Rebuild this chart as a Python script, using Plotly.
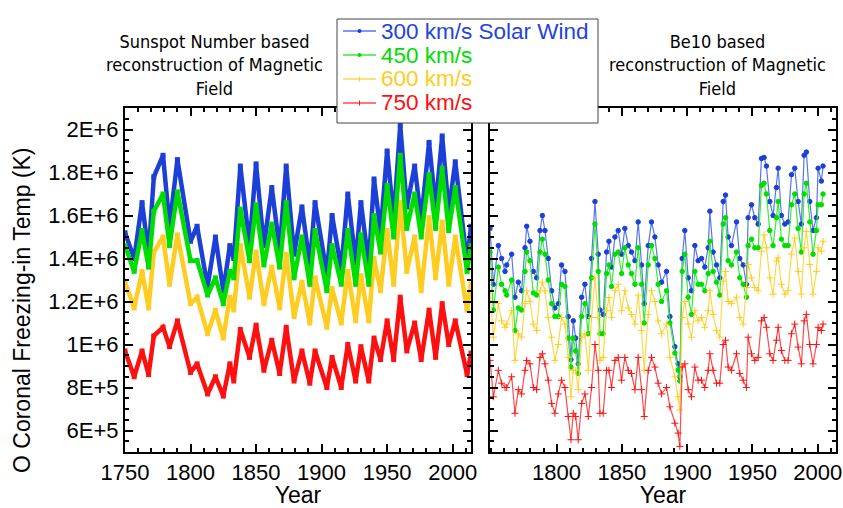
import plotly.graph_objects as go

# ---------------- Left panel: sunspot-number based ----------------
years_ssn = [1750, 1757, 1763, 1768, 1772, 1779, 1784, 1790, 1800, 1805, 1813, 1819, 1825, 1830,
             1833, 1838, 1845, 1850, 1856, 1862, 1868, 1873, 1879, 1885, 1891, 1895, 1904, 1908,
             1915, 1920, 1926, 1930, 1936, 1940, 1945, 1950, 1955, 1960, 1965, 1971, 1976, 1982,
             1987, 1992, 1997, 2002, 2011, 2014]
ssn_300 = [1.52e6, 1.40e6, 1.66e6, 1.42e6, 1.78e6, 1.88e6, 1.55e6, 1.86e6, 1.48e6, 1.55e6, 1.27e6,
           1.50e6, 1.25e6, 1.46e6, 1.40e6, 1.83e6, 1.46e6, 1.84e6, 1.46e6, 1.73e6, 1.44e6, 1.83e6,
           1.42e6, 1.64e6, 1.37e6, 1.66e6, 1.33e6, 1.60e6, 1.35e6, 1.70e6, 1.38e6, 1.66e6, 1.37e6,
           1.77e6, 1.52e6, 1.90e6, 1.58e6, 2.02e6, 1.64e6, 1.83e6, 1.58e6, 1.94e6, 1.64e6, 1.97e6,
           1.62e6, 1.85e6, 1.38e6, 1.55e6]
ssn_450 = [1.46e6, 1.34e6, 1.53e6, 1.36e6, 1.62e6, 1.70e6, 1.46e6, 1.71e6, 1.39e6, 1.39e6, 1.23e6,
           1.31e6, 1.19e6, 1.34e6, 1.31e6, 1.63e6, 1.39e6, 1.65e6, 1.37e6, 1.56e6, 1.36e6, 1.66e6,
           1.31e6, 1.50e6, 1.28e6, 1.53e6, 1.25e6, 1.46e6, 1.28e6, 1.53e6, 1.28e6, 1.51e6, 1.28e6,
           1.60e6, 1.43e6, 1.74e6, 1.50e6, 1.88e6, 1.54e6, 1.70e6, 1.50e6, 1.79e6, 1.54e6, 1.82e6,
           1.53e6, 1.73e6, 1.34e6, 1.46e6]
ssn_600 = [1.29e6, 1.17e6, 1.34e6, 1.17e6, 1.43e6, 1.50e6, 1.28e6, 1.51e6, 1.19e6, 1.22e6, 1.05e6,
           1.16e6, 1.03e6, 1.22e6, 1.16e6, 1.46e6, 1.22e6, 1.43e6, 1.19e6, 1.36e6, 1.17e6, 1.42e6,
           1.13e6, 1.29e6, 1.10e6, 1.31e6, 1.08e6, 1.26e6, 1.10e6, 1.34e6, 1.11e6, 1.32e6, 1.11e6,
           1.40e6, 1.25e6, 1.53e6, 1.28e6, 1.66e6, 1.34e6, 1.50e6, 1.25e6, 1.59e6, 1.31e6, 1.57e6,
           1.28e6, 1.50e6, 1.16e6, 1.28e6]
ssn_750 = [9.7e5, 8.5e5, 9.7e5, 8.6e5, 1.04e6, 1.08e6, 9.9e5, 1.11e6, 8.7e5, 9.1e5, 7.7e5,
           8.5e5, 7.6e5, 9.1e5, 8.3e5, 1.07e6, 9.4e5, 1.09e6, 8.8e5, 1.02e6, 8.65e5, 1.08e6,
           8.3e5, 9.7e5, 8.2e5, 9.7e5, 8.0e5, 9.4e5, 8.0e5, 1.00e6, 8.3e5, 9.9e5, 8.3e5,
           1.03e6, 9.3e5, 1.11e6, 9.3e5, 1.22e6, 9.7e5, 1.10e6, 9.3e5, 1.16e6, 9.4e5, 1.19e6,
           1.00e6, 1.11e6, 8.6e5, 9.6e5]

# ---------------- Right panel: Be10 based ----------------
years_be = [1749, 1751.6, 1755.4, 1757.9, 1760.5, 1761.8, 1765.6, 1768.1, 1770.7, 1773.2, 1775.8,
            1777.1, 1779.6, 1782.2, 1784.7, 1787.3, 1789.1, 1791.1, 1793.6, 1796.2, 1798.7, 1801.3,
            1803.8, 1806.4, 1808.9, 1811, 1812.8, 1814.6, 1816.6, 1819.2, 1821.7, 1824.3, 1826.8,
            1829.4, 1831.9, 1833.2, 1835.7, 1838.3, 1840.1, 1842.1, 1844.7, 1847.2, 1849.8, 1852.3,
            1854.9, 1857.4, 1860, 1862.5, 1865.1, 1867.1, 1870.2, 1872.7, 1875.3, 1877.8, 1880.4,
            1884.2, 1886.8, 1890.6, 1893.1, 1894.4, 1896.2, 1898.2, 1900.8, 1903.3, 1905.9, 1908.4,
            1911, 1913.5, 1916.1, 1917.4, 1919.9, 1922.5, 1925, 1927.6, 1929.4, 1931.4, 1933.9,
            1937.8, 1940.3, 1942.9, 1945.4, 1946.7, 1949.3, 1951.8, 1954.4, 1956.9, 1958.9, 1960.7,
            1963.3, 1965.8, 1968.4, 1969.7, 1972.2, 1974.8, 1977.3, 1979.9, 1982.4, 1985, 1987.5,
            1989.6, 1991.3, 1993.9, 1996.4, 1999, 2000.3, 2002.8, 2004.1]
be_300 = [1.54e6, 1.28e6, 1.46e6, 1.40e6, 1.34e6, 1.37e6, 1.42e6, 1.22e6, 1.29e6, 1.25e6, 1.45e6,
          1.55e6, 1.48e6, 1.34e6, 1.31e6, 1.53e6, 1.60e6, 1.53e6, 1.40e6, 1.25e6, 1.17e6, 1.19e6,
          1.37e6, 1.34e6, 1.13e6, 0.93e6, 1.11e6, 1.03e6, 0.91e6, 1.22e6, 1.28e6, 1.13e6, 1.40e6,
          1.665e6, 1.42e6, 1.16e6, 1.14e6, 1.43e6, 1.48e6, 1.36e6, 1.50e6, 1.53e6, 1.42e6, 1.54e6,
          1.46e6, 1.43e6, 1.39e6, 1.57e6, 1.37e6, 1.19e6, 1.46e6, 1.57e6, 1.50e6, 1.37e6, 1.29e6,
          1.34e6, 1.13e6, 0.99e6, 0.91e6, 0.85e6, 1.40e6, 1.53e6, 1.31e6, 1.25e6, 1.46e6, 1.39e6,
          1.40e6, 1.36e6, 1.45e6, 1.62e6, 1.43e6, 1.37e6, 1.31e6, 1.665e6, 1.695e6, 1.50e6, 1.46e6,
          1.57e6, 1.40e6, 1.37e6, 1.28e6, 1.59e6, 1.65e6, 1.59e6, 1.56e6, 1.865e6, 1.87e6, 1.83e6,
          1.665e6, 1.60e6, 1.73e6, 1.82e6, 1.60e6, 1.56e6, 1.57e6, 1.79e6, 1.82e6, 1.665e6, 1.56e6,
          1.88e6, 1.895e6, 1.665e6, 1.53e6, 1.59e6, 1.82e6, 1.76e6, 1.83e6]
be_450 = [1.43e6, 1.16e6, 1.36e6, 1.28e6, 1.25e6, 1.23e6, 1.30e6, 1.065e6, 1.17e6, 1.16e6, 1.34e6,
          1.43e6, 1.39e6, 1.24e6, 1.23e6, 1.43e6, 1.49e6, 1.42e6, 1.30e6, 1.19e6, 1.13e6, 1.13e6,
          1.28e6, 1.27e6, 1.03e6, 0.895e6, 1.03e6, 0.97e6, 0.865e6, 1.13e6, 1.19e6, 1.05e6, 1.31e6,
          1.56e6, 1.34e6, 1.05e6, 1.05e6, 1.33e6, 1.37e6, 1.27e6, 1.42e6, 1.43e6, 1.33e6, 1.45e6,
          1.37e6, 1.33e6, 1.28e6, 1.45e6, 1.28e6, 1.10e6, 1.37e6, 1.46e6, 1.40e6, 1.28e6, 1.20e6,
          1.25e6, 1.10e6, 0.96e6, 0.88e6, 0.83e6, 1.34e6, 1.42e6, 1.22e6, 1.14e6, 1.34e6, 1.28e6,
          1.28e6, 1.25e6, 1.33e6, 1.48e6, 1.34e6, 1.29e6, 1.23e6, 1.56e6, 1.59e6, 1.39e6, 1.37e6,
          1.43e6, 1.31e6, 1.28e6, 1.22e6, 1.46e6, 1.49e6, 1.45e6, 1.45e6, 1.74e6, 1.75e6, 1.70e6,
          1.53e6, 1.46e6, 1.59e6, 1.665e6, 1.49e6, 1.46e6, 1.46e6, 1.65e6, 1.70e6, 1.54e6, 1.43e6,
          1.70e6, 1.75e6, 1.57e6, 1.42e6, 1.53e6, 1.65e6, 1.65e6, 1.70e6]
be_600 = [1.25e6, 1.034e6, 1.19e6, 1.11e6, 1.08e6, 1.095e6, 1.157e6, 0.926e6, 1.05e6, 1.034e6, 1.19e6,
          1.25e6, 1.20e6, 1.095e6, 1.065e6, 1.25e6, 1.29e6, 1.25e6, 1.126e6, 1.034e6, 0.926e6, 1.0e6,
          1.126e6, 1.095e6, 0.94e6, 0.757e6, 0.88e6, 0.88e6, 0.79e6, 1.034e6, 1.05e6, 0.88e6, 1.126e6,
          1.31e6, 1.126e6, 0.926e6, 0.94e6, 1.157e6, 1.218e6, 1.126e6, 1.25e6, 1.28e6, 1.157e6, 1.25e6,
          1.17e6, 1.14e6, 1.095e6, 1.23e6, 1.065e6, 0.88e6, 1.14e6, 1.25e6, 1.20e6, 1.11e6, 1.05e6,
          1.095e6, 0.94e6, 0.85e6, 0.757e6, 0.695e6, 1.126e6, 1.20e6, 1.095e6, 1.034e6, 1.157e6, 1.11e6,
          1.126e6, 1.08e6, 1.157e6, 1.25e6, 1.14e6, 1.065e6, 1.034e6, 1.295e6, 1.34e6, 1.20e6, 1.19e6,
          1.22e6, 1.126e6, 1.095e6, 1.265e6, 1.372e6, 1.31e6, 1.265e6, 1.25e6, 1.434e6, 1.51e6, 1.45e6,
          1.31e6, 1.234e6, 1.388e6, 1.403e6, 1.28e6, 1.234e6, 1.25e6, 1.42e6, 1.495e6, 1.34e6, 1.234e6,
          1.45e6, 1.526e6, 1.372e6, 1.234e6, 1.34e6, 1.45e6, 1.434e6, 1.48e6]
be_750 = [0.926e6, 0.757e6, 0.88e6, 0.82e6, 0.80e6, 0.80e6, 0.85e6, 0.68e6, 0.79e6, 0.77e6, 0.88e6,
          0.926e6, 0.91e6, 0.80e6, 0.79e6, 0.94e6, 0.957e6, 0.91e6, 0.834e6, 0.726e6, 0.68e6, 0.77e6,
          0.834e6, 0.80e6, 0.665e6, 0.557e6, 0.68e6, 0.665e6, 0.557e6, 0.726e6, 0.77e6, 0.665e6, 0.80e6,
          1.0e6, 0.88e6, 0.68e6, 0.68e6, 0.88e6, 0.88e6, 0.80e6, 0.926e6, 0.94e6, 0.834e6, 0.94e6,
          0.88e6, 0.865e6, 0.79e6, 0.94e6, 0.79e6, 0.665e6, 0.88e6, 0.94e6, 0.895e6, 0.82e6, 0.77e6,
          0.80e6, 0.71e6, 0.634e6, 0.588e6, 0.526e6, 0.895e6, 0.91e6, 0.79e6, 0.757e6, 0.895e6, 0.834e6,
          0.834e6, 0.80e6, 0.88e6, 0.957e6, 0.88e6, 0.82e6, 0.82e6, 1.0e6, 1.02e6, 0.895e6, 0.88e6,
          0.957e6, 0.865e6, 0.834e6, 0.80e6, 1.034e6, 0.957e6, 0.926e6, 0.94e6, 1.11e6, 1.126e6, 1.08e6,
          0.957e6, 0.926e6, 1.02e6, 1.08e6, 0.972e6, 0.926e6, 0.926e6, 1.05e6, 1.095e6, 0.988e6, 0.91e6,
          1.11e6, 1.14e6, 1.0e6, 0.91e6, 1.0e6, 1.08e6, 1.065e6, 1.095e6]

series_names = ["300 km/s Solar Wind", "450 km/s", "600 km/s", "750 km/s"]
colors = ["#1c3fd8", "#00dd00", "#ffcc22", "#ff1010"]
line_colors = ["#5577ee", "#33ee33", "#ffd84a", "#ff4a4a"]
text_colors = ["#1f44e0", "#00dd00", "#ffcc22", "#ff1010"]
symbols = ["circle", "circle", "cross-thin", "cross-thin"]

y_tickvals = [6e5, 8e5, 1e6, 1.2e6, 1.4e6, 1.6e6, 1.8e6, 2e6]
y_ticktext = ["6E+5", "8E+5", "1E+6", "1.2E+6", "1.4E+6", "1.6E+6", "1.8E+6", "2E+6"]
x_tickvals = [1750, 1800, 1850, 1900, 1950, 2000]

W, H = 843, 508


def px(x):
    return x / W


def py(y):
    return 1 - y / H


fig = go.Figure()

left_data = [ssn_300, ssn_450, ssn_600, ssn_750]
right_data = [be_300, be_450, be_600, be_750]
draw_order = [2, 3, 0, 1]
for i in draw_order:
    fig.add_trace(go.Scatter(
        x=years_ssn, y=left_data[i], mode="lines+markers",
        line=dict(color=colors[i], width=4.5),
        marker=dict(color=colors[i], size=5, symbol="square"),
        showlegend=False, xaxis="x", yaxis="y", hoverinfo="skip"))

for i in range(4):
    fig.add_trace(go.Scatter(
        x=years_be, y=right_data[i], mode="lines+markers", name=series_names[i],
        line=dict(color=line_colors[i], width=1.2),
        marker=dict(color=colors[i], size=4.5 if i < 2 else 5, symbol=symbols[i],
                    line=dict(color=colors[i], width=1)),
        showlegend=False, xaxis="x2", yaxis="y2"))

axis_common = dict(showline=True, linecolor="black", linewidth=2, mirror="allticks",
                   ticks="inside", ticklen=8, tickwidth=2, tickcolor="black",
                   showgrid=False, zeroline=False, automargin=False,
                   tickfont=dict(family="Liberation Sans, Arial", size=22, color="black"))
minor_x = dict(dtick=10, ticklen=4, tickwidth=1.5, tickcolor="black", ticks="inside")
minor_y = dict(dtick=5e4, ticklen=4, tickwidth=1.5, tickcolor="black", ticks="inside")

title_font = dict(family="Liberation Sans, Arial", size=23, color="black")

fig.update_layout(
    width=W, height=H,
    margin=dict(l=0, r=0, t=0, b=0),
    paper_bgcolor="white", plot_bgcolor="white",
    showlegend=False,
    xaxis=dict(domain=[px(125), px(471)], range=[1750, 2014], tickvals=x_tickvals,
               minor=minor_x, title=dict(text="Year", font=title_font, standoff=11),
               **axis_common),
    yaxis=dict(domain=[py(452), py(108)], range=[5e5, 2.1e6], tickvals=y_tickvals,
               ticktext=y_ticktext, minor=minor_y, **axis_common),
    xaxis2=dict(domain=[px(490), px(836)], range=[1749, 2014], tickvals=x_tickvals[1:],
                minor=minor_x, anchor="y2",
                title=dict(text="Year", font=title_font, standoff=11),
                **axis_common),
    yaxis2=dict(domain=[py(452), py(108)], range=[5e5, 2.1e6], tickvals=y_tickvals,
                showticklabels=False, minor=minor_y, anchor="x2", **axis_common),
)

# y axis title
fig.add_annotation(x=px(22), y=py(310), xref="paper", yref="paper",
                   text="O Coronal Freezing-in Temp (K)", textangle=-90, showarrow=False,
                   xanchor="center", yanchor="middle", font=title_font)

# panel titles
panel_font = dict(family="DejaVu Sans Condensed, DejaVu Sans", size=18, color="black")
fig.add_annotation(x=px(214), y=py(65), xref="paper", yref="paper",
                   xanchor="center", yanchor="middle",
                   text="Sunspot Number based<br>reconstruction of Magnetic<br>Field",
                   showarrow=False, font=panel_font, align="center")
fig.add_annotation(x=px(717), y=py(65), xref="paper", yref="paper",
                   xanchor="center", yanchor="middle",
                   text="Be10 based<br>reconstruction of Magnetic<br>Field",
                   showarrow=False, font=panel_font, align="center")

# legend box (drawn manually for a compact layout)
fig.add_shape(type="rect", xref="paper", yref="paper", x0=px(337), x1=px(598),
              y0=py(123), y1=py(19), fillcolor="white", line=dict(color="#444444", width=1),
              layer="above")
row_y = [31, 55, 79, 103]
for i in range(4):
    yy = row_y[i]
    fig.add_shape(type="line", xref="paper", yref="paper", x0=px(343), x1=px(376),
                  y0=py(yy), y1=py(yy), line=dict(color=line_colors[i], width=1.5),
                  layer="above")
    if i < 2:
        fig.add_shape(type="circle", xref="paper", yref="paper", x0=px(357.5), x1=px(361.5),
                      y0=py(yy + 2), y1=py(yy - 2), fillcolor=colors[i],
                      line=dict(color=colors[i], width=0), layer="above")
    else:
        fig.add_shape(type="line", xref="paper", yref="paper", x0=px(359.5), x1=px(359.5),
                      y0=py(yy + 2.5), y1=py(yy - 2.5), line=dict(color=colors[i], width=1),
                      layer="above")
    fig.add_annotation(x=px(379), y=py(yy), xref="paper", yref="paper",
                       xanchor="left", yanchor="middle", text=series_names[i],
                       showarrow=False,
                       font=dict(family="Liberation Sans, Arial", size=22.5,
                                 color=text_colors[i]))

fig.write_html("out.html")
